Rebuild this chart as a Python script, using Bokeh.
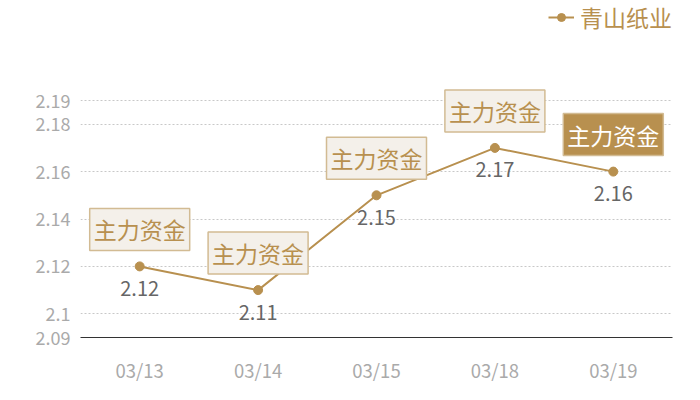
from bokeh.plotting import figure
from bokeh.models import (
    ColumnDataSource,
    FactorRange,
    Range1d,
    FixedTicker,
    CustomJSTickFormatter,
    Legend,
    LegendItem,
)
from bokeh.core.properties import value
from bokeh.embed import file_html
from bokeh.resources import INLINE

dates = ["03/13", "03/14", "03/15", "03/18", "03/19"]
prices = [2.12, 2.11, 2.15, 2.17, 2.16]
tag_text = ["主力资金"] * 5
tag_fill = ["#f4f0ea", "#f4f0ea", "#f4f0ea", "#f4f0ea", "#b8904f"]
tag_color = ["#b8904f", "#b8904f", "#b8904f", "#b8904f", "#ffffff"]
y_ticks = [2.09, 2.1, 2.12, 2.14, 2.16, 2.18, 2.19]
series_name = "青山纸业"

GOLD = "#b8904f"
FONT = "Noto Sans CJK SC"

source = ColumnDataSource(
    data=dict(
        x=dates,
        y=prices,
        lbl=[f"{v:g}" for v in prices],
        tag=tag_text,
        fill=tag_fill,
        tcolor=tag_color,
    )
)

# frame reaches the top of the canvas so the legend can live inside it;
# the axis still runs 2.09 -> 2.19 over the lower 237px
p = figure(
    width=684,
    height=392,
    x_range=FactorRange(*dates),
    y_range=Range1d(2.09, 2.2322),
    output_backend="svg",
    toolbar_location=None,
    min_border_left=80,
    min_border_right=12,
    min_border_top=0,
    min_border_bottom=55,
)
p.outline_line_color = None

line = p.line("x", "y", source=source, line_color=GOLD, line_width=2)
dots = p.scatter("x", "y", source=source, size=9, color=GOLD)

# value labels under the points
p.text(
    "x", "y", text="lbl", source=source, y_offset=22,
    text_align="center", text_baseline="middle",
    text_font=value(FONT), text_font_size="20px", text_color="#666666",
)

# "主力资金" tags above the points
p.text(
    "x", "y", text="tag", source=source, y_offset=-37,
    text_align="center", text_baseline="middle",
    text_font=value(FONT), text_font_size="23px", text_color="tcolor",
    background_fill_color="fill", border_line_color="#d2bb93",
    border_line_width=1.5, padding=4,
)

p.xgrid.grid_line_color = None
p.ygrid.grid_line_color = "#c8c8c8"
p.ygrid.grid_line_dash = "2 2"
p.ygrid.ticker = FixedTicker(ticks=y_ticks)

p.yaxis.ticker = FixedTicker(ticks=y_ticks)
p.yaxis.formatter = CustomJSTickFormatter(code="return String(Math.round(tick*100)/100)")
p.yaxis.axis_line_color = None
p.yaxis.major_tick_line_color = None
p.yaxis.minor_tick_line_color = None
p.yaxis.major_label_text_color = "#aaaaaa"
p.yaxis.major_label_text_font = FONT
p.yaxis.major_label_text_font_size = "18px"
p.yaxis.major_label_standoff = 4

p.xaxis.axis_line_color = "#333333"
p.xaxis.major_tick_line_color = None
p.xaxis.minor_tick_line_color = None
p.xaxis.major_label_text_color = "#aaaaaa"
p.xaxis.major_label_text_font = FONT
p.xaxis.major_label_text_font_size = "18.5px"
p.xaxis.major_label_standoff = 13

legend = Legend(
    items=[LegendItem(label=series_name, renderers=[line, dots])],
    location=(468, 303),
    orientation="horizontal",
    label_text_font=FONT,
    label_text_font_size="23px",
    label_text_line_height=1.0,
    label_text_color=GOLD,
    glyph_width=26,
    label_standoff=6,
    border_line_alpha=0,
    background_fill_alpha=0,
    padding=0,
    margin=0,
)
p.add_layout(legend)

open("out.html", "w").write(file_html(p, INLINE))
